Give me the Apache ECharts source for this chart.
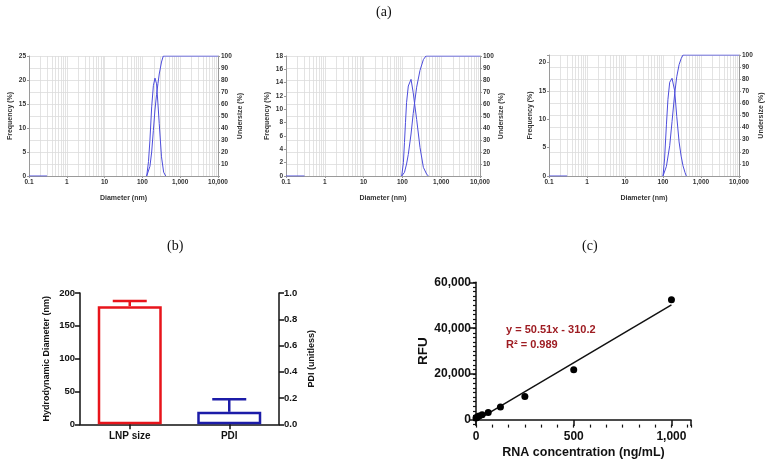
<!DOCTYPE html>
<html><head><meta charset="utf-8">
<script src="https://cdn.jsdelivr.net/npm/echarts@6/dist/echarts.min.js"></script>
<style>html,body{margin:0;padding:0;background:#fff}#c{width:770px;height:463px}</style>
</head><body><div id="c"></div><script>
// ---------- Panel (a): size distributions (three runs) ----------
const freqX1 = [0.1, 0.3, 1, 130, 145, 158, 176, 195, 215, 237, 258, 279, 320, 365, 413];
const freqY1 = [0, 0, '-', 0, 3, 7.4, 14.4, 18.8, 20.4, 19.2, 15, 10.9, 4, 0.8, 0];
const cumX1  = [130, 158, 176, 195, 215, 237, 258, 279, 320, 357, 10000];
const cumY1  = [0, 8, 20, 38, 55, 68, 77, 85, 95, 100, 100];

const freqX2 = [0.1, 0.3, 1, 96, 106, 113, 120, 128, 142, 167, 190, 210, 233, 284, 347, 420, 466];
const freqY2 = [0, 0, '-', 0, 2, 5, 8, 11, 13.5, 14.5, 12.5, 10.5, 8.5, 4.3, 1.3, 0.3, 0];
const cumX2  = [96, 113, 128, 142, 167, 190, 210, 233, 284, 347, 405, 10000];
const cumY2  = [0, 3, 10, 18, 35, 52, 63, 74, 88, 97, 100, 100];

const freqX3 = [0.1, 0.3, 1, 100, 110, 123, 135, 150, 173, 203, 230, 265, 300, 336, 380, 411];
const freqY3 = [0, 0, '-', 0, 3, 9, 13.5, 16.5, 17.2, 15, 10.5, 6, 3.5, 1.8, 0.6, 0];
const cumX3  = [100, 123, 150, 173, 203, 230, 265, 300, 336, 10000];
const cumY3  = [0, 8, 25, 45, 68, 82, 92, 97, 100, 100];

const freqMax = [25, 18, 21.3];
const freqStep = [5, 2, 5];

// ---------- Panel (b): LNP size and PDI ----------
const bCategories = ['LNP size', 'PDI'];
const bMeans = [180, 0.095];
const bErrors = [8, 0.095];

// ---------- Panel (c): standard curve ----------
const rnaConc = [0, 3.9, 7.8, 15.6, 31.25, 62.5, 125, 250, 500, 1000];
const rfuVals = [900, 1100, 1400, 1800, 2300, 3250, 5700, 10200, 21900, 52400];
const fitSlope = 50.51, fitIntercept = -310.2;
const fitRange = [0, 1000];

const SANS = '"Liberation Sans", Arial, sans-serif';
const SERIF = '"Liberation Serif", "DejaVu Serif", serif';
const comma = v => String(v).replace(/\B(?=(\d{3})+(?!\d))/g, ',');

const grids = [], xAxes = [], yAxes = [], series = [];

const aLayout = [
  {left: 29, top: 56, width: 189, height: 120, gl: 15, gr: 19},
  {left: 286, top: 56, width: 194, height: 120, gl: 15, gr: 15},
  {left: 549, top: 55, width: 190, height: 121, gl: 15, gr: 19}
];
const aData = [
  [freqX1, freqY1, cumX1, cumY1],
  [freqX2, freqY2, cumX2, cumY2],
  [freqX3, freqY3, cumX3, cumY3]
];
const minorLog = [];
for (let e = -1; e <= 3; e++) for (let k = 2; k <= 9; k++) minorLog.push(+(k * Math.pow(10, e)).toPrecision(6));

const gray = '#9a9a9a', gridCol = '#dcdcdc', blue = '#4d4ddb';
aLayout.forEach((L, i) => {
  const gi = grids.length;
  grids.push({left: L.left, top: L.top, width: L.width, height: L.height});
  const xi = xAxes.length;
  xAxes.push({
    type: 'log', logBase: 10, gridIndex: gi, min: 0.1, max: 10000, position: 'bottom',
    axisLine: {show: true, lineStyle: {color: gray, width: 1}},
    axisTick: {show: true, length: 2, lineStyle: {color: gray}},
    axisLabel: {fontSize: 6.5, fontWeight: 'bold', color: '#333', margin: 3, fontFamily: SANS,
      formatter: v => { const r = Math.round(Math.log10(v)); const val = Math.pow(10, r); return r < 0 ? val.toFixed(-r) : comma(val); }},
    splitLine: {show: true, lineStyle: {color: gridCol, width: 0.8}},
    name: 'Diameter (nm)', nameLocation: 'middle', nameGap: 19,
    nameTextStyle: {fontSize: 7, fontWeight: 'bold', color: '#333', fontFamily: SANS}
  });
  const yl = yAxes.length;
  const step = freqStep[i];
  yAxes.push({
    type: 'value', gridIndex: gi, min: 0, max: freqMax[i], interval: step, position: 'left',
    axisLine: {show: true, lineStyle: {color: gray, width: 1}},
    axisTick: {show: true, length: 2, lineStyle: {color: gray}},
    axisLabel: {fontSize: 6.5, fontWeight: 'bold', color: '#333', margin: 3, fontFamily: SANS,
      formatter: v => (Math.abs(v / step - Math.round(v / step)) < 1e-6 ? String(v) : '')},
    splitLine: {show: false},
    name: 'Frequency (%)', nameLocation: 'middle', nameGap: L.gl, nameRotate: 90,
    nameTextStyle: {fontSize: 7, fontWeight: 'bold', color: '#333', fontFamily: SANS}
  });
  const yr = yAxes.length;
  yAxes.push({
    type: 'value', gridIndex: gi, min: 0, max: 100, interval: 10, position: 'right',
    axisLine: {show: true, lineStyle: {color: gray, width: 1}},
    axisTick: {show: true, length: 2, lineStyle: {color: gray}},
    axisLabel: {fontSize: 6.5, fontWeight: 'bold', color: '#333', margin: 3, fontFamily: SANS,
      formatter: v => (v === 0 ? '' : String(v))},
    splitLine: {show: true, lineStyle: {color: gridCol, width: 0.8}},
    name: 'Undersize (%)', nameLocation: 'middle', nameGap: L.gr, nameRotate: 90,
    nameTextStyle: {fontSize: 7, fontWeight: 'bold', color: '#333', fontFamily: SANS}
  });
  const [fx, fy, cx, cy] = aData[i];
  series.push({
    type: 'line', xAxisIndex: xi, yAxisIndex: yr, data: [], silent: true,
    markLine: {silent: true, symbol: 'none', label: {show: false}, animation: false,
      lineStyle: {color: gridCol, width: 0.8, type: 'solid'},
      data: minorLog.map(v => ({xAxis: v}))}
  });
  series.push({
    type: 'line', xAxisIndex: xi, yAxisIndex: yl, showSymbol: false, connectNulls: false,
    lineStyle: {color: blue, width: 1}, itemStyle: {color: blue}, z: 5,
    data: fx.map((x, j) => [x, fy[j]])
  });
  series.push({
    type: 'line', xAxisIndex: xi, yAxisIndex: yr, showSymbol: false,
    lineStyle: {color: blue, width: 1}, itemStyle: {color: blue}, z: 5,
    data: cx.map((x, j) => [x, cy[j]])
  });
});

// ---------- Panel (b) ----------
const black = '#111';
const bStyle = {
  axisLine: {show: true, lineStyle: {color: black, width: 1.5}},
  axisTick: {show: true, length: 5, lineStyle: {color: black, width: 1.5}},
  axisLabel: {fontSize: 9.5, fontWeight: 'bold', color: black, fontFamily: SANS}
};
const gb = grids.length;
grids.push({left: 80, top: 293, width: 199, height: 131.3});
const xb = xAxes.length;
xAxes.push({
  type: 'category', gridIndex: gb, data: bCategories, boundaryGap: true, position: 'bottom',
  axisLine: bStyle.axisLine,
  axisTick: {show: true, alignWithLabel: true, length: 5, lineStyle: {color: black, width: 1.5}},
  axisLabel: {fontSize: 10, fontWeight: 'bold', color: black, margin: 7, fontFamily: SANS}
});
const ybl = yAxes.length;
yAxes.push({
  type: 'value', gridIndex: gb, min: 0, max: 200, interval: 50, position: 'left',
  axisLine: bStyle.axisLine, axisTick: bStyle.axisTick,
  axisLabel: Object.assign({}, bStyle.axisLabel, {margin: 5}),
  splitLine: {show: false},
  name: 'Hydrodynamic Diameter (nm)', nameLocation: 'middle', nameGap: 29, nameRotate: 90,
  nameTextStyle: {fontSize: 9, fontWeight: 'bold', color: black, fontFamily: SANS}
});
const ybr = yAxes.length;
yAxes.push({
  type: 'value', gridIndex: gb, min: 0, max: 1, interval: 0.2, position: 'right',
  axisLine: bStyle.axisLine, axisTick: bStyle.axisTick,
  axisLabel: Object.assign({}, bStyle.axisLabel, {margin: 5, formatter: v => v.toFixed(1)}),
  splitLine: {show: false},
  name: 'PDI (unitless)', nameLocation: 'middle', nameGap: 28, nameRotate: 90,
  nameTextStyle: {fontSize: 9, fontWeight: 'bold', color: black, fontFamily: SANS}
});
const bColors = ['#e8141b', '#1c1ca8'];
[ybl, ybr].forEach((yi, k) => {
  series.push({
    type: 'bar', xAxisIndex: xb, yAxisIndex: yi, barWidth: 64, barGap: '-100%',
    data: bCategories.map((c, j) => (j === k ? bMeans[k] : '-')),
    itemStyle: {color: '#fff', borderColor: bColors[k], borderWidth: 2.5}, z: 3
  });
  series.push({
    type: 'custom', xAxisIndex: xb, yAxisIndex: yi, z: 4,
    data: [[k, bMeans[k], bMeans[k] + bErrors[k]]],
    renderItem: (params, api) => {
      const p0 = api.coord([api.value(0), api.value(1)]);
      const p1 = api.coord([api.value(0), api.value(2)]);
      const st = {stroke: bColors[k], lineWidth: 2.5};
      return {type: 'group', children: [
        {type: 'line', shape: {x1: p0[0], y1: p0[1], x2: p1[0], y2: p1[1]}, style: st},
        {type: 'line', shape: {x1: p1[0] - 17, y1: p1[1], x2: p1[0] + 17, y2: p1[1]}, style: st}
      ]};
    }
  });
});

// ---------- Panel (c) ----------
const gc = grids.length;
grids.push({left: 476, top: 282.3, width: 215, height: 142.3});
const xc = xAxes.length;
xAxes.push({
  type: 'value', gridIndex: gc, min: 0, max: 1100, interval: 500, position: 'bottom',
  axisLine: {show: true, lineStyle: {color: black, width: 1.5}},
  axisTick: {show: true, length: 6, lineStyle: {color: black, width: 1.5}},
  axisLabel: {fontSize: 12, fontWeight: 'bold', color: black, margin: 6, fontFamily: SANS,
    formatter: v => (v % 500 === 0 ? comma(v) : '')},
  splitLine: {show: false},
  name: 'RNA concentration (ng/mL)', nameLocation: 'middle', nameGap: 21,
  nameTextStyle: {fontSize: 12.5, fontWeight: 'bold', color: black, fontFamily: SANS}
});
xAxes.push({
  type: 'value', gridIndex: gc, min: 0, max: 1100, interval: 500 / 6, position: 'bottom',
  axisLine: {show: false}, axisTick: {show: true, length: 3, lineStyle: {color: black, width: 1.2}},
  axisLabel: {show: false}, splitLine: {show: false}
});
const yc = yAxes.length;
yAxes.push({
  type: 'value', gridIndex: gc, min: -2000, max: 60000, interval: 2000, position: 'left',
  axisLine: {show: true, lineStyle: {color: black, width: 1.5}},
  axisTick: {show: true, length: 3, lineStyle: {color: black, width: 1.2}},
  axisLabel: {show: false}, splitLine: {show: false}
});
const gc2 = grids.length;
grids.push({left: 476, top: 282.3, width: 215, height: 137.7});
xAxes.push({type: 'value', gridIndex: gc2, show: false, min: 0, max: 1100});
yAxes.push({
  type: 'value', gridIndex: gc2, min: 0, max: 60000, interval: 20000, position: 'left',
  axisLine: {show: false},
  axisTick: {show: true, length: 6, lineStyle: {color: black, width: 1.5}},
  axisLabel: {fontSize: 12, fontWeight: 'bold', color: black, margin: 5, fontFamily: SANS, formatter: v => comma(v)},
  splitLine: {show: false},
  name: 'RFU', nameLocation: 'middle', nameGap: 44, nameRotate: 90,
  nameTextStyle: {fontSize: 13.5, fontWeight: 'bold', color: black, fontFamily: SANS}
});
series.push({
  type: 'line', xAxisIndex: xc, yAxisIndex: yc, showSymbol: false, z: 3,
  lineStyle: {color: black, width: 1.5},
  data: fitRange.map(x => [x, fitSlope * x + fitIntercept])
});
series.push({
  type: 'scatter', xAxisIndex: xc, yAxisIndex: yc, symbolSize: 7, z: 4,
  itemStyle: {color: '#000', opacity: 1},
  data: rnaConc.map((x, j) => [x, rfuVals[j]])
});

const eqColor = '#9e1c22';
const option = {
  animation: false,
  grid: grids, xAxis: xAxes, yAxis: yAxes, series: series,
  graphic: [
    {type: 'text', left: 376, top: 5, style: {text: '(a)', font: '14px ' + SERIF, fill: '#111'}},
    {type: 'text', left: 167, top: 239, style: {text: '(b)', font: '14px ' + SERIF, fill: '#111'}},
    {type: 'text', left: 582, top: 239, style: {text: '(c)', font: '14px ' + SERIF, fill: '#111'}},
    {type: 'text', left: 506, top: 324, style: {text: 'y = 50.51x - 310.2', font: 'bold 11px ' + SANS, fill: eqColor}},
    {type: 'text', left: 506, top: 339, style: {text: 'R\u00b2 = 0.989', font: 'bold 11px ' + SANS, fill: eqColor}}
  ]
};
echarts.init(document.getElementById('c')).setOption(option);
</script></body></html>
